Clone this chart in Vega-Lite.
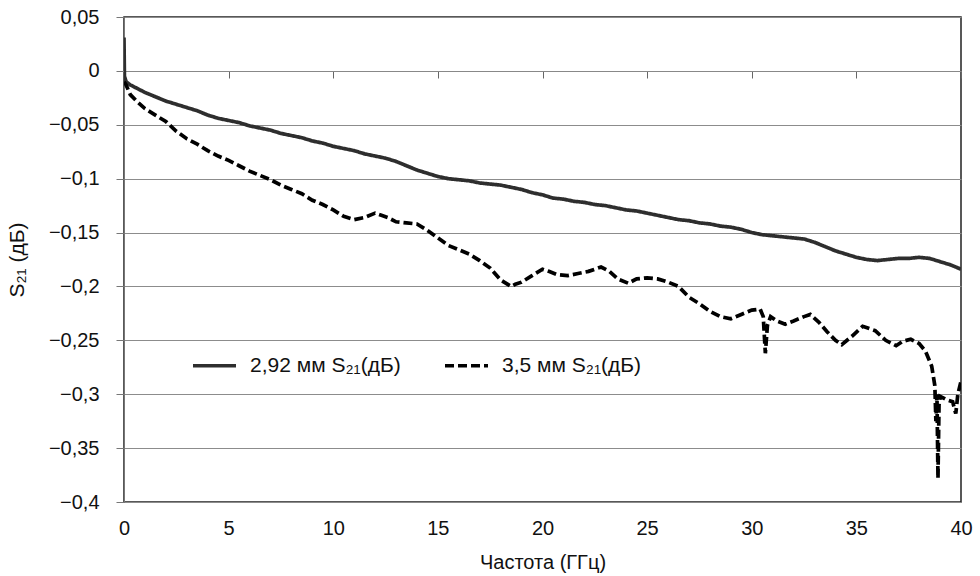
{
  "$schema": "https://vega.github.io/schema/vega-lite/v6.json",
  "width": 837,
  "height": 485,
  "autosize": {"type": "none"},
  "padding": {"left": 124, "top": 17, "right": 19, "bottom": 74},
  "background": "white",
  "config": {
    "view": {"stroke": "#222", "strokeWidth": 1.5},
    "font": "Liberation Sans"
  },
  "data": {
    "values": [
      {"f": 0, "s": 0.031, "series": "2,92 мм S₂₁(дБ)"},
      {"f": 0.02, "s": -0.005, "series": "2,92 мм S₂₁(дБ)"},
      {"f": 0.1, "s": -0.010, "series": "2,92 мм S₂₁(дБ)"},
      {"f": 0.3, "s": -0.013, "series": "2,92 мм S₂₁(дБ)"},
      {"f": 0.5, "s": -0.015, "series": "2,92 мм S₂₁(дБ)"},
      {"f": 1.0, "s": -0.020, "series": "2,92 мм S₂₁(дБ)"},
      {"f": 1.5, "s": -0.024, "series": "2,92 мм S₂₁(дБ)"},
      {"f": 2.0, "s": -0.028, "series": "2,92 мм S₂₁(дБ)"},
      {"f": 2.5, "s": -0.031, "series": "2,92 мм S₂₁(дБ)"},
      {"f": 3.0, "s": -0.034, "series": "2,92 мм S₂₁(дБ)"},
      {"f": 3.5, "s": -0.037, "series": "2,92 мм S₂₁(дБ)"},
      {"f": 4.0, "s": -0.041, "series": "2,92 мм S₂₁(дБ)"},
      {"f": 4.5, "s": -0.044, "series": "2,92 мм S₂₁(дБ)"},
      {"f": 5.0, "s": -0.046, "series": "2,92 мм S₂₁(дБ)"},
      {"f": 5.5, "s": -0.048, "series": "2,92 мм S₂₁(дБ)"},
      {"f": 6.0, "s": -0.051, "series": "2,92 мм S₂₁(дБ)"},
      {"f": 6.5, "s": -0.053, "series": "2,92 мм S₂₁(дБ)"},
      {"f": 7.0, "s": -0.055, "series": "2,92 мм S₂₁(дБ)"},
      {"f": 7.5, "s": -0.058, "series": "2,92 мм S₂₁(дБ)"},
      {"f": 8.0, "s": -0.060, "series": "2,92 мм S₂₁(дБ)"},
      {"f": 8.5, "s": -0.062, "series": "2,92 мм S₂₁(дБ)"},
      {"f": 9.0, "s": -0.065, "series": "2,92 мм S₂₁(дБ)"},
      {"f": 9.5, "s": -0.067, "series": "2,92 мм S₂₁(дБ)"},
      {"f": 10.0, "s": -0.070, "series": "2,92 мм S₂₁(дБ)"},
      {"f": 10.5, "s": -0.072, "series": "2,92 мм S₂₁(дБ)"},
      {"f": 11.0, "s": -0.074, "series": "2,92 мм S₂₁(дБ)"},
      {"f": 11.5, "s": -0.077, "series": "2,92 мм S₂₁(дБ)"},
      {"f": 12.0, "s": -0.079, "series": "2,92 мм S₂₁(дБ)"},
      {"f": 12.5, "s": -0.081, "series": "2,92 мм S₂₁(дБ)"},
      {"f": 13.0, "s": -0.084, "series": "2,92 мм S₂₁(дБ)"},
      {"f": 13.5, "s": -0.088, "series": "2,92 мм S₂₁(дБ)"},
      {"f": 14.0, "s": -0.092, "series": "2,92 мм S₂₁(дБ)"},
      {"f": 14.5, "s": -0.095, "series": "2,92 мм S₂₁(дБ)"},
      {"f": 15.0, "s": -0.098, "series": "2,92 мм S₂₁(дБ)"},
      {"f": 15.5, "s": -0.100, "series": "2,92 мм S₂₁(дБ)"},
      {"f": 16.0, "s": -0.101, "series": "2,92 мм S₂₁(дБ)"},
      {"f": 16.5, "s": -0.102, "series": "2,92 мм S₂₁(дБ)"},
      {"f": 17.0, "s": -0.104, "series": "2,92 мм S₂₁(дБ)"},
      {"f": 17.5, "s": -0.105, "series": "2,92 мм S₂₁(дБ)"},
      {"f": 18.0, "s": -0.106, "series": "2,92 мм S₂₁(дБ)"},
      {"f": 18.5, "s": -0.108, "series": "2,92 мм S₂₁(дБ)"},
      {"f": 19.0, "s": -0.110, "series": "2,92 мм S₂₁(дБ)"},
      {"f": 19.5, "s": -0.113, "series": "2,92 мм S₂₁(дБ)"},
      {"f": 20.0, "s": -0.115, "series": "2,92 мм S₂₁(дБ)"},
      {"f": 20.5, "s": -0.118, "series": "2,92 мм S₂₁(дБ)"},
      {"f": 21.0, "s": -0.119, "series": "2,92 мм S₂₁(дБ)"},
      {"f": 21.5, "s": -0.121, "series": "2,92 мм S₂₁(дБ)"},
      {"f": 22.0, "s": -0.122, "series": "2,92 мм S₂₁(дБ)"},
      {"f": 22.5, "s": -0.124, "series": "2,92 мм S₂₁(дБ)"},
      {"f": 23.0, "s": -0.125, "series": "2,92 мм S₂₁(дБ)"},
      {"f": 23.5, "s": -0.127, "series": "2,92 мм S₂₁(дБ)"},
      {"f": 24.0, "s": -0.129, "series": "2,92 мм S₂₁(дБ)"},
      {"f": 24.5, "s": -0.130, "series": "2,92 мм S₂₁(дБ)"},
      {"f": 25.0, "s": -0.132, "series": "2,92 мм S₂₁(дБ)"},
      {"f": 25.5, "s": -0.134, "series": "2,92 мм S₂₁(дБ)"},
      {"f": 26.0, "s": -0.136, "series": "2,92 мм S₂₁(дБ)"},
      {"f": 26.5, "s": -0.138, "series": "2,92 мм S₂₁(дБ)"},
      {"f": 27.0, "s": -0.139, "series": "2,92 мм S₂₁(дБ)"},
      {"f": 27.5, "s": -0.141, "series": "2,92 мм S₂₁(дБ)"},
      {"f": 28.0, "s": -0.142, "series": "2,92 мм S₂₁(дБ)"},
      {"f": 28.5, "s": -0.144, "series": "2,92 мм S₂₁(дБ)"},
      {"f": 29.0, "s": -0.145, "series": "2,92 мм S₂₁(дБ)"},
      {"f": 29.5, "s": -0.147, "series": "2,92 мм S₂₁(дБ)"},
      {"f": 30.0, "s": -0.150, "series": "2,92 мм S₂₁(дБ)"},
      {"f": 30.5, "s": -0.152, "series": "2,92 мм S₂₁(дБ)"},
      {"f": 31.0, "s": -0.153, "series": "2,92 мм S₂₁(дБ)"},
      {"f": 31.5, "s": -0.154, "series": "2,92 мм S₂₁(дБ)"},
      {"f": 32.0, "s": -0.155, "series": "2,92 мм S₂₁(дБ)"},
      {"f": 32.5, "s": -0.156, "series": "2,92 мм S₂₁(дБ)"},
      {"f": 33.0, "s": -0.159, "series": "2,92 мм S₂₁(дБ)"},
      {"f": 33.5, "s": -0.163, "series": "2,92 мм S₂₁(дБ)"},
      {"f": 34.0, "s": -0.167, "series": "2,92 мм S₂₁(дБ)"},
      {"f": 34.5, "s": -0.170, "series": "2,92 мм S₂₁(дБ)"},
      {"f": 35.0, "s": -0.173, "series": "2,92 мм S₂₁(дБ)"},
      {"f": 35.5, "s": -0.175, "series": "2,92 мм S₂₁(дБ)"},
      {"f": 36.0, "s": -0.176, "series": "2,92 мм S₂₁(дБ)"},
      {"f": 36.5, "s": -0.175, "series": "2,92 мм S₂₁(дБ)"},
      {"f": 37.0, "s": -0.174, "series": "2,92 мм S₂₁(дБ)"},
      {"f": 37.5, "s": -0.174, "series": "2,92 мм S₂₁(дБ)"},
      {"f": 38.0, "s": -0.173, "series": "2,92 мм S₂₁(дБ)"},
      {"f": 38.5, "s": -0.174, "series": "2,92 мм S₂₁(дБ)"},
      {"f": 39.0, "s": -0.177, "series": "2,92 мм S₂₁(дБ)"},
      {"f": 39.5, "s": -0.180, "series": "2,92 мм S₂₁(дБ)"},
      {"f": 40.0, "s": -0.184, "series": "2,92 мм S₂₁(дБ)"},
      {"f": 0, "s": -0.010, "series": "3,5 мм S₂₁(дБ)"},
      {"f": 0.1, "s": -0.013, "series": "3,5 мм S₂₁(дБ)"},
      {"f": 0.3, "s": -0.022, "series": "3,5 мм S₂₁(дБ)"},
      {"f": 0.6, "s": -0.028, "series": "3,5 мм S₂₁(дБ)"},
      {"f": 1.0, "s": -0.035, "series": "3,5 мм S₂₁(дБ)"},
      {"f": 1.5, "s": -0.041, "series": "3,5 мм S₂₁(дБ)"},
      {"f": 2.0, "s": -0.047, "series": "3,5 мм S₂₁(дБ)"},
      {"f": 2.5, "s": -0.056, "series": "3,5 мм S₂₁(дБ)"},
      {"f": 3.0, "s": -0.063, "series": "3,5 мм S₂₁(дБ)"},
      {"f": 3.5, "s": -0.068, "series": "3,5 мм S₂₁(дБ)"},
      {"f": 4.0, "s": -0.074, "series": "3,5 мм S₂₁(дБ)"},
      {"f": 4.5, "s": -0.079, "series": "3,5 мм S₂₁(дБ)"},
      {"f": 5.0, "s": -0.083, "series": "3,5 мм S₂₁(дБ)"},
      {"f": 5.5, "s": -0.088, "series": "3,5 мм S₂₁(дБ)"},
      {"f": 6.0, "s": -0.093, "series": "3,5 мм S₂₁(дБ)"},
      {"f": 6.5, "s": -0.097, "series": "3,5 мм S₂₁(дБ)"},
      {"f": 7.0, "s": -0.101, "series": "3,5 мм S₂₁(дБ)"},
      {"f": 7.5, "s": -0.106, "series": "3,5 мм S₂₁(дБ)"},
      {"f": 8.0, "s": -0.110, "series": "3,5 мм S₂₁(дБ)"},
      {"f": 8.5, "s": -0.114, "series": "3,5 мм S₂₁(дБ)"},
      {"f": 9.0, "s": -0.120, "series": "3,5 мм S₂₁(дБ)"},
      {"f": 9.5, "s": -0.124, "series": "3,5 мм S₂₁(дБ)"},
      {"f": 10.0, "s": -0.129, "series": "3,5 мм S₂₁(дБ)"},
      {"f": 10.5, "s": -0.135, "series": "3,5 мм S₂₁(дБ)"},
      {"f": 11.0, "s": -0.138, "series": "3,5 мм S₂₁(дБ)"},
      {"f": 11.5, "s": -0.136, "series": "3,5 мм S₂₁(дБ)"},
      {"f": 12.0, "s": -0.132, "series": "3,5 мм S₂₁(дБ)"},
      {"f": 12.3, "s": -0.134, "series": "3,5 мм S₂₁(дБ)"},
      {"f": 12.6, "s": -0.136, "series": "3,5 мм S₂₁(дБ)"},
      {"f": 13.0, "s": -0.140, "series": "3,5 мм S₂₁(дБ)"},
      {"f": 13.5, "s": -0.141, "series": "3,5 мм S₂₁(дБ)"},
      {"f": 14.0, "s": -0.142, "series": "3,5 мм S₂₁(дБ)"},
      {"f": 14.5, "s": -0.148, "series": "3,5 мм S₂₁(дБ)"},
      {"f": 15.0, "s": -0.155, "series": "3,5 мм S₂₁(дБ)"},
      {"f": 15.5, "s": -0.162, "series": "3,5 мм S₂₁(дБ)"},
      {"f": 16.0, "s": -0.166, "series": "3,5 мм S₂₁(дБ)"},
      {"f": 16.5, "s": -0.170, "series": "3,5 мм S₂₁(дБ)"},
      {"f": 17.0, "s": -0.176, "series": "3,5 мм S₂₁(дБ)"},
      {"f": 17.5, "s": -0.183, "series": "3,5 мм S₂₁(дБ)"},
      {"f": 18.0, "s": -0.194, "series": "3,5 мм S₂₁(дБ)"},
      {"f": 18.5, "s": -0.200, "series": "3,5 мм S₂₁(дБ)"},
      {"f": 18.7, "s": -0.198, "series": "3,5 мм S₂₁(дБ)"},
      {"f": 19.0, "s": -0.196, "series": "3,5 мм S₂₁(дБ)"},
      {"f": 19.5, "s": -0.190, "series": "3,5 мм S₂₁(дБ)"},
      {"f": 20.0, "s": -0.184, "series": "3,5 мм S₂₁(дБ)"},
      {"f": 20.3, "s": -0.186, "series": "3,5 мм S₂₁(дБ)"},
      {"f": 20.7, "s": -0.189, "series": "3,5 мм S₂₁(дБ)"},
      {"f": 21.2, "s": -0.190, "series": "3,5 мм S₂₁(дБ)"},
      {"f": 21.7, "s": -0.188, "series": "3,5 мм S₂₁(дБ)"},
      {"f": 22.2, "s": -0.186, "series": "3,5 мм S₂₁(дБ)"},
      {"f": 22.8, "s": -0.182, "series": "3,5 мм S₂₁(дБ)"},
      {"f": 23.2, "s": -0.186, "series": "3,5 мм S₂₁(дБ)"},
      {"f": 23.6, "s": -0.193, "series": "3,5 мм S₂₁(дБ)"},
      {"f": 24.1, "s": -0.197, "series": "3,5 мм S₂₁(дБ)"},
      {"f": 24.5, "s": -0.193, "series": "3,5 мм S₂₁(дБ)"},
      {"f": 25.0, "s": -0.192, "series": "3,5 мм S₂₁(дБ)"},
      {"f": 25.5, "s": -0.193, "series": "3,5 мм S₂₁(дБ)"},
      {"f": 26.0, "s": -0.196, "series": "3,5 мм S₂₁(дБ)"},
      {"f": 26.5, "s": -0.200, "series": "3,5 мм S₂₁(дБ)"},
      {"f": 27.0, "s": -0.210, "series": "3,5 мм S₂₁(дБ)"},
      {"f": 27.5, "s": -0.216, "series": "3,5 мм S₂₁(дБ)"},
      {"f": 28.0, "s": -0.223, "series": "3,5 мм S₂₁(дБ)"},
      {"f": 28.5, "s": -0.228, "series": "3,5 мм S₂₁(дБ)"},
      {"f": 29.0, "s": -0.230, "series": "3,5 мм S₂₁(дБ)"},
      {"f": 29.5, "s": -0.226, "series": "3,5 мм S₂₁(дБ)"},
      {"f": 30.0, "s": -0.222, "series": "3,5 мм S₂₁(дБ)"},
      {"f": 30.4, "s": -0.221, "series": "3,5 мм S₂₁(дБ)"},
      {"f": 30.55, "s": -0.228, "series": "3,5 мм S₂₁(дБ)"},
      {"f": 30.65, "s": -0.262, "series": "3,5 мм S₂₁(дБ)"},
      {"f": 30.75, "s": -0.236, "series": "3,5 мм S₂₁(дБ)"},
      {"f": 30.9, "s": -0.228, "series": "3,5 мм S₂₁(дБ)"},
      {"f": 31.2, "s": -0.232, "series": "3,5 мм S₂₁(дБ)"},
      {"f": 31.6, "s": -0.235, "series": "3,5 мм S₂₁(дБ)"},
      {"f": 32.0, "s": -0.232, "series": "3,5 мм S₂₁(дБ)"},
      {"f": 32.5, "s": -0.228, "series": "3,5 мм S₂₁(дБ)"},
      {"f": 32.8, "s": -0.226, "series": "3,5 мм S₂₁(дБ)"},
      {"f": 33.2, "s": -0.233, "series": "3,5 мм S₂₁(дБ)"},
      {"f": 33.6, "s": -0.242, "series": "3,5 мм S₂₁(дБ)"},
      {"f": 34.0, "s": -0.250, "series": "3,5 мм S₂₁(дБ)"},
      {"f": 34.3, "s": -0.254, "series": "3,5 мм S₂₁(дБ)"},
      {"f": 34.8, "s": -0.246, "series": "3,5 мм S₂₁(дБ)"},
      {"f": 35.3, "s": -0.237, "series": "3,5 мм S₂₁(дБ)"},
      {"f": 35.9, "s": -0.241, "series": "3,5 мм S₂₁(дБ)"},
      {"f": 36.4, "s": -0.250, "series": "3,5 мм S₂₁(дБ)"},
      {"f": 36.9, "s": -0.255, "series": "3,5 мм S₂₁(дБ)"},
      {"f": 37.2, "s": -0.251, "series": "3,5 мм S₂₁(дБ)"},
      {"f": 37.6, "s": -0.249, "series": "3,5 мм S₂₁(дБ)"},
      {"f": 38.0, "s": -0.253, "series": "3,5 мм S₂₁(дБ)"},
      {"f": 38.3, "s": -0.260, "series": "3,5 мм S₂₁(дБ)"},
      {"f": 38.6, "s": -0.274, "series": "3,5 мм S₂₁(дБ)"},
      {"f": 38.75, "s": -0.292, "series": "3,5 мм S₂₁(дБ)"},
      {"f": 38.8, "s": -0.325, "series": "3,5 мм S₂₁(дБ)"},
      {"f": 38.85, "s": -0.300, "series": "3,5 мм S₂₁(дБ)"},
      {"f": 38.9, "s": -0.378, "series": "3,5 мм S₂₁(дБ)"},
      {"f": 38.95, "s": -0.310, "series": "3,5 мм S₂₁(дБ)"},
      {"f": 39.0, "s": -0.302, "series": "3,5 мм S₂₁(дБ)"},
      {"f": 39.3, "s": -0.305, "series": "3,5 мм S₂₁(дБ)"},
      {"f": 39.6, "s": -0.307, "series": "3,5 мм S₂₁(дБ)"},
      {"f": 39.75, "s": -0.318, "series": "3,5 мм S₂₁(дБ)"},
      {"f": 39.85, "s": -0.300, "series": "3,5 мм S₂₁(дБ)"},
      {"f": 40.0, "s": -0.288, "series": "3,5 мм S₂₁(дБ)"}
    ]
  },
  "mark": {"type": "line", "strokeWidth": 3.7, "clip": true},
  "encoding": {
    "x": {
      "field": "f",
      "type": "quantitative",
      "scale": {"domain": [0, 40], "nice": false, "zero": false},
      "axis": {
        "orient": "bottom",
        "offset": -431,
        "values": [0, 5, 10, 15, 20, 25, 30, 35, 40],
        "grid": false,
        "domainColor": "#888",
        "domainWidth": 1,
        "tickColor": "#666",
        "tickSize": 7,
        "tickWidth": 1,
        "labelFlush": false,
        "labelPadding": 440,
        "labelBaseline": "top",
        "labelFont": "Liberation Sans",
        "labelFontSize": 20,
        "labelColor": "#111",
        "title": "Частота (ГГц)",
        "titleFont": "Liberation Sans",
        "titleFontSize": 20,
        "titleFontWeight": "normal",
        "titleColor": "#111",
        "titleY": 497,
        "titleBaseline": "alphabetic"
      }
    },
    "y": {
      "field": "s",
      "type": "quantitative",
      "scale": {"domain": [-0.4, 0.05], "nice": false, "zero": false},
      "axis": {
        "values": [-0.4, -0.35, -0.3, -0.25, -0.2, -0.15, -0.1, -0.05, 0, 0.05],
        "labelExpr": "replace(format(datum.value, '.2~f'), '.', ',')",
        "labelFlush": false,
        "grid": true,
        "gridColor": "#8c8c8c",
        "gridWidth": 1,
        "domainColor": "#777",
        "domainWidth": 1,
        "tickColor": "#777",
        "tickSize": 8,
        "labelPadding": 17,
        "labelFontSize": 20,
        "labelColor": "#111",
        "title": "S₂₁ (дБ)",
        "titleFontSize": 21,
        "titleFontWeight": "normal",
        "titleColor": "#111",
        "titleX": -107,
        "titleBaseline": "middle"
      }
    },
    "color": {
      "field": "series",
      "type": "nominal",
      "scale": {"domain": ["2,92 мм S₂₁(дБ)", "3,5 мм S₂₁(дБ)"], "range": ["#2e2e2e", "#000000"]}
    },
    "strokeDash": {
      "field": "series",
      "type": "nominal",
      "scale": {"domain": ["2,92 мм S₂₁(дБ)", "3,5 мм S₂₁(дБ)"], "range": [[1, 0], [9, 4]]},
      "legend": {
        "orient": "none",
        "legendX": 67,
        "legendY": 325,
        "direction": "horizontal",
        "title": null,
        "symbolType": "stroke",
        "symbolSize": 1849,
        "symbolStrokeWidth": 3.7,
        "labelFontSize": 21,
        "labelColor": "#111",
        "labelOffset": 12,
        "columnPadding": 36,
        "padding": 0
      }
    }
  }
}
